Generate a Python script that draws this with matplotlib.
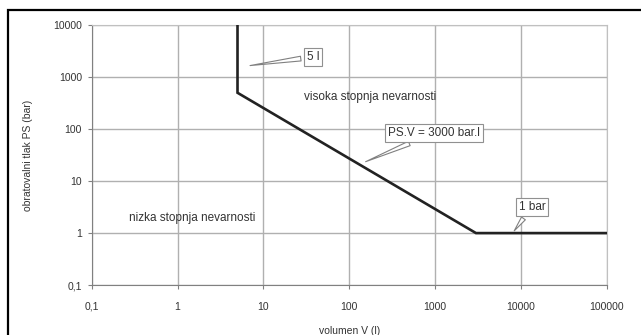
import matplotlib
matplotlib.use("Agg")
from matplotlib import pyplot as plt
from matplotlib.patches import Rectangle

# boundary line PS.V = 3000 bar.l, 5 l and 1 bar limits
volume = [5, 5, 3000, 100000]
pressure = [10000, 500, 1, 1]

x_ticks = [0.1, 1, 10, 100, 1000, 10000, 100000]
x_labels = ["0,1", "1", "10", "100", "1000", "10000", "100000"]
y_ticks = [0.1, 1, 10, 100, 1000, 10000]
y_labels = ["0,1", "1", "10", "100", "1000", "10000"]

plt.rcParams["font.family"] = ["Liberation Sans", "DejaVu Sans"]

fig = plt.figure(figsize=(6.41, 3.35), dpi=100)
ax = fig.add_axes([0.143, 0.149, 0.8035, 0.776])

ax.plot(volume, pressure, color="#222222", lw=1.9, solid_joinstyle="miter", zorder=3)

ax.set_xscale("log")
ax.set_yscale("log")
ax.set_xlim(0.1, 100000)
ax.set_ylim(0.1, 10000)
ax.set_xticks(x_ticks, x_labels)
ax.set_yticks(y_ticks, y_labels)
ax.minorticks_off()
ax.grid(True, color="#b0b0b0", lw=1)
for side in ["top", "right"]:
    ax.spines[side].set_color("#c0c0c0")
for side in ["left", "bottom"]:
    ax.spines[side].set_color("#808080")
ax.tick_params(axis="both", colors="#808080", labelcolor="#333333", labelsize=7.5, length=3)
ax.tick_params(axis="x", pad=9)
ax.tick_params(axis="y", pad=4)

ax.set_xlabel("volumen V (l)", fontsize=7.5, color="#333333")
ax.set_ylabel("obratovalni tlak PS (bar)", fontsize=7.5, color="#333333")
ax.xaxis.set_label_coords(0.5, -0.158)
ax.yaxis.set_label_coords(-0.114, 0.5)

ax.text(175, 415, "visoka stopnja nevarnosti", fontsize=8.5, color="#333333", ha="center", va="center")
ax.text(1.47, 1.97, "nizka stopnja nevarnosti", fontsize=8.5, color="#333333", ha="center", va="center")

box = dict(boxstyle="square,pad=0.25", fc="white", ec="#909090", lw=0.8)
wedge = dict(arrowstyle="wedge,tail_width=0.4,shrink_factor=0.5", fc="white", ec="#808080", lw=0.8)
ax.annotate("5 l", xy=(6.5, 1640), xytext=(38, 2450), fontsize=8.5, color="#333333",
            ha="center", va="center", bbox=box, arrowprops=wedge)
ax.annotate("PS.V = 3000 bar.l", xy=(145, 22.5), xytext=(977, 84), fontsize=8.5, color="#333333",
            ha="center", va="center", bbox=box, arrowprops=wedge)
ax.annotate("1 bar", xy=(8000, 1), xytext=(13500, 3.2), fontsize=8.5, color="#333333",
            ha="center", va="center", bbox=box, arrowprops=wedge)

fig.patches.append(Rectangle((8 / 641, -0.1), 1.1, 1 - 10 / 335 + 0.1, transform=fig.transFigure,
                             fill=False, ec="black", lw=1.6))

fig.savefig("out.png", dpi=100)
